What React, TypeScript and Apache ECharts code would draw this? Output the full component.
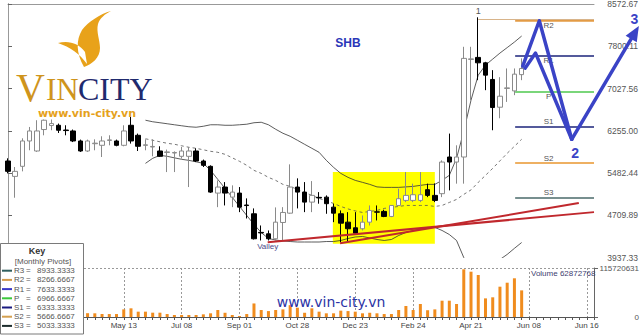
import React, { useEffect, useRef } from 'react';
import * as echarts from 'echarts';

// ---------- data ----------
const xTickLabels = ['May 13', 'Jul 08', 'Sep 01', 'Oct 28', 'Dec 23', 'Feb 24', 'Apr 21', 'Jun 08', 'Jun 16'];
const xTickStart = 16;
const xTickStep = 8;
const slotCount = 82;

// weekly candles: [open, close, low, high]
const candles: number[][] = [
  [5704, 5515, 5478, 5753], [5423, 5515, 5033, 5594], [5607, 6070, 5515, 6119], [6070, 6253, 5900, 6326],
  [5887, 6253, 5870, 6449], [6279, 6449, 6174, 6462], [6352, 6388, 6266, 6462], [6357, 6266, 6216, 6388],
  [6270, 6260, 6174, 6357], [6253, 6070, 6050, 6279], [6070, 5887, 5870, 6095], [5887, 6070, 5870, 6095],
  [6020, 6030, 5900, 6100], [5991, 6070, 5777, 6156], [6080, 6090, 5991, 6174], [6070, 5991, 5973, 6095],
  [5991, 6253, 5973, 6357], [6357, 6070, 6022, 6509], [6174, 5973, 5887, 6205], [5990, 6000, 5900, 6100],
  [5960, 5970, 5790, 6100], [5887, 5790, 5777, 5973], [5860, 5870, 5502, 5913], [5850, 5860, 5502, 5880],
  [5790, 5887, 5748, 5960], [5790, 5887, 5228, 5960], [5887, 5704, 5685, 5936], [5704, 5625, 5594, 5730],
  [5607, 5136, 5120, 5625], [5118, 5228, 4861, 5350], [5228, 5118, 4892, 5319], [5044, 5136, 4861, 5259],
  [5118, 4861, 4770, 5228], [4900, 4890, 4654, 5021], [4740, 4283, 4270, 4838], [4400, 4390, 4252, 4526],
  [4374, 4283, 4252, 4435], [4283, 4587, 4252, 4856], [4581, 4764, 4252, 4861], [4751, 5228, 4740, 5643],
  [5228, 5136, 4838, 5387], [5136, 4953, 4770, 5319], [4953, 5076, 4770, 5337], [5040, 5030, 4924, 5136],
  [5044, 4924, 4740, 5076], [4861, 4751, 4587, 4924], [4740, 4568, 4221, 4801], [4587, 4466, 4221, 4770],
  [4484, 4385, 4374, 4770], [4466, 4587, 4435, 4709], [4587, 4801, 4526, 4892], [4775, 4770, 4618, 4892],
  [4783, 4691, 4678, 4813], [4691, 4892, 4678, 4900], [4892, 5015, 4885, 5198], [4984, 5076, 4953, 5502],
  [4984, 5088, 4953, 5290], [4984, 5088, 4953, 5502], [5180, 5076, 5044, 5290], [5076, 4984, 4953, 5295],
  [5107, 5685, 5044, 5716], [5777, 5685, 5167, 6205], [5685, 5777, 5290, 5991], [5777, 7579, 5290, 7791],
  [7560, 7570, 6815, 7791], [7597, 7498, 7181, 8330], [7498, 7273, 6998, 7516], [7194, 6681, 6266, 7364],
  [6687, 6888, 6485, 7236], [7030, 7040, 6784, 7395], [6985, 7291, 6907, 7395], [7282, 7395, 7181, 7579],
];

// weekly volume, millions of shares
const volumeMillions = [
  10, 9, 14, 12, 11, 8, 9, 7, 8, 9, 11, 9,
  8.7, 7.1, 7.0, 7.0, 18, 20.5, 12.6, 12.6, 10.2, 10.2, 7, 4.7,
  4.7, 4.7, 4.7, 6.3, 8.7, 16.5, 10, 4.7, 2.4, 7, 32, 16.5,
  14, 16.5, 18, 28, 22, 10, 20.5, 12.6, 8.7, 8.7, 15, 14,
  12.6, 8.7, 10, 8.7, 7, 7, 16.5, 26, 16.5, 30.7, 16, 18,
  38.5, 38.5, 30.7, 112.6, 107, 99.2, 44, 46.5, 71.6, 81, 91.4, 62.872768,
];

// Bollinger bands (20 weeks), first value at week 19
const bandStart = 19;
const upperBand = [
  6449, 6421, 6403, 6385, 6366, 6348, 6330, 6321, 6339, 6366, 6366, 6357, 6357, 6366, 6376, 6403, 6412, 6366,
  6284, 6211, 6156, 6083, 6009, 5936, 5863, 5716, 5588, 5478, 5405, 5350, 5314, 5277, 5231, 5222, 5222, 5222,
  5231, 5240, 5259, 5277, 5277, 5350, 5442, 5753, 6247, 6815, 7273, 7456, 7566, 7676, 7776, 7877, 7987,
];
const middleBand = [
  6110, 6083, 6055, 6028, 6010, 5982, 5955, 5936, 5909, 5881, 5863, 5826, 5762, 5698, 5625, 5533, 5478, 5405,
  5350, 5277, 5240, 5185, 5130, 5076, 5021, 4975, 4929, 4874, 4828, 4792, 4764, 4782, 4801, 4838, 4856, 4874,
  4892, 4892, 4892, 4892, 4874, 4892, 4947, 5002, 5094, 5176, 5314, 5442, 5570, 5707, 5845, 5973, 6101,
];
const lowerBand = [
  5661, 5753, 5808, 5790, 5762, 5735, 5716, 5689, 5661, 5533, 5368, 5204, 5039, 4874, 4709, 4545, 4398, 4288,
  4261, 4242, 4233, 4224, 4224, 4224, 4224, 4233, 4233, 4252, 4288, 4316, 4325, 4298, 4270, 4252, 4270, 4343,
  4398, 4435, 4462, 4490, 4490, 4435, 4361, 4252, 3940, 3611, 3428, 3428, 3556, 3905, 3997, 4108, 4215,
];

const pivotNames = ['R3', 'R2', 'R1', 'P', 'S1', 'S2', 'S3'];
const pivotValues = [8933.3333, 8266.6667, 7633.3333, 6966.6667, 6333.3333, 5666.6667, 5033.3333];
const pivotFrom = 70.1;
const pivotTo = 81;

const priceTicks = [3937.33, 4709.89, 5482.44, 6255.0, 7027.56, 7800.11, 8572.67];
const volumeMax = 115720631;
const lastVolume = 62872768;

// annotations: [week index, price]
const trendA = [[35.9, 4220], [81, 4770]];
const trendB = [[45.9, 4202], [78.9, 4935]];
const boxArea = [[44.9, 5502], [59.0, 4191]];
const priorHigh = [[65, 8293], [81, 8293]];
const topMark = [65, 8330];
const valleyMark = [35.9, 4133];
const arrowA = [[71.15, 7438], [73.44, 8267], [77.92, 6101]];
const arrowB = [[71.47, 7401], [72.92, 7676], [77.92, 6101]];
const arrowC = [[77.92, 6101], [87.2, 8170]];
const waveLabels = [
  { text: '2', at: [78.4, 5845] },
  { text: '3', at: [86.6, 8290] },
];

// ---------- styles ----------
const FONT = 'Liberation Sans';
const pivotLineColors = ['#2f5f5f', '#e39b45', '#1b237a', '#4ec94e', '#1b237a', '#e8962e', '#4a6a6a'];
const pivotLineWidths = [1.5, 2.5, 1.5, 1.5, 1.5, 1.5, 1.5];
const pivotKeyColors = ['#2f5f5f', '#d39a4a', '#3a3ac8', '#3cc83c', '#1a1a80', '#d4a050', '#1c2c2c'];
const BLUE = '#3a43c6';

const flamePath =
  'M111,11 C100,14 88,22 82,30 C76,40 76,53 84,67 C92,64 100,58 100,48 C100,40 96,32 98,24 C100,18 105,14 111,11 Z ' +
  'M58,43 C68,40 79,43 85,52 L87,64 C80,54 70,47 58,43 Z';

function labelAt(i: number): string | null {
  if (i < xTickStart || (i - xTickStart) % xTickStep !== 0) return null;
  const k = (i - xTickStart) / xTickStep;
  return k < xTickLabels.length ? xTickLabels[k] : null;
}

function buildOption(): any {
  const slots = Array.from({ length: slotCount }, (_, i) => String(i));
  const band = (arr: number[]) => arr.map((v, k) => [k + bandStart, v]);
  const yMin = priceTicks[0];
  const yMax = priceTicks[priceTicks.length - 1];

  const pivotLines: any[] = [];
  pivotNames.forEach((n, k) => {
    const v = pivotValues[k];
    if (v > yMax || v < yMin) return;
    pivotLines.push([
      {
        coord: [pivotFrom, v],
        lineStyle: { color: pivotLineColors[k], width: pivotLineWidths[k], type: 'solid' },
        label: {
          show: true,
          formatter: n,
          position: v >= pivotValues[3] ? 'insideMiddleBottom' : 'insideMiddleTop',
          distance: 1,
          color: '#555',
          fontSize: 8,
          fontFamily: FONT,
          padding: [0, 12, 0, 0],
        },
      },
      { coord: [pivotTo, v] },
    ]);
  });
  pivotLines.push([
    { coord: priorHigh[0], lineStyle: { color: '#d8b48a', width: 1, type: 'solid' }, label: { show: false } },
    { coord: priorHigh[1] },
  ]);

  const arrowRender = (params: any, api: any) => {
    if (params.dataIndex !== 0) return null;
    const px = (pts: number[][]) => pts.map((p) => api.coord(p));
    const a = px(arrowA);
    const b = px(arrowB);
    const c = px(arrowC);
    const end = c[c.length - 1];
    const prev = c[c.length - 2];
    const dx = end[0] - prev[0];
    const dy = end[1] - prev[1];
    const len = Math.sqrt(dx * dx + dy * dy);
    const ux = dx / len;
    const uy = dy / len;
    const headL = 15;
    const headW = 6.5;
    const base = [end[0] - ux * headL, end[1] - uy * headL];
    const cLine = c.slice(0, c.length - 1).concat([[end[0] - ux * (headL - 2), end[1] - uy * (headL - 2)]]);
    const lineStyle = { stroke: BLUE, lineWidth: 3.5, fill: null, lineJoin: 'round', lineCap: 'round' };
    const children: any[] = [
      { type: 'polyline', shape: { points: a }, style: lineStyle },
      { type: 'polyline', shape: { points: b }, style: lineStyle },
      { type: 'polyline', shape: { points: cLine }, style: lineStyle },
      {
        type: 'polygon',
        shape: {
          points: [
            end,
            [base[0] - uy * headW, base[1] + ux * headW],
            [base[0] + uy * headW, base[1] - ux * headW],
          ],
        },
        style: { fill: BLUE },
      },
    ];
    waveLabels.forEach((w) => {
      const p = api.coord(w.at);
      children.push({
        type: 'text',
        x: p[0],
        y: p[1],
        style: { text: w.text, font: 'bold 14px Liberation Sans', fill: BLUE, align: 'center', verticalAlign: 'middle' },
      });
    });
    return { type: 'group', children };
  };

  const graphic: any[] = [];
  // logo
  graphic.push({ type: 'vcFlame', x: 0, y: 0, z: 50, style: { fill: '#e8a21a' } });
  graphic.push({
    type: 'text', x: 16, y: 87, z: 50,
    style: { text: 'V', font: '40px Liberation Serif', fill: '#cf941c', align: 'left', verticalAlign: 'middle' },
  });
  graphic.push({
    type: 'text', x: 46, y: 89, z: 50,
    style: { text: 'IN', font: '31px Liberation Serif', fill: '#cf941c', align: 'left', verticalAlign: 'middle' },
  });
  graphic.push({
    type: 'text', x: 78, y: 89, z: 50,
    style: { text: 'CITY', font: '32px Liberation Serif', fill: '#1f2a6e', align: 'left', verticalAlign: 'middle' },
  });
  graphic.push({
    type: 'text', x: 87, y: 113, z: 50,
    style: { text: 'www.vin-city.vn', font: 'bold 11px DejaVu Sans', fill: '#e5a11c', align: 'center', verticalAlign: 'middle' },
  });
  graphic.push({
    type: 'text', x: 348, y: 43, z: 50,
    style: { text: 'SHB', font: 'bold 12px Liberation Sans', fill: '#2a36b8', align: 'center', verticalAlign: 'middle' },
  });
  graphic.push({
    type: 'text', x: 331, y: 302, z: 50,
    style: { text: 'www.vin-city.vn', font: '14px DejaVu Sans', fill: '#2b33a5', align: 'center', verticalAlign: 'middle' },
  });
  graphic.push({
    type: 'text', x: 531, y: 273, z: 50,
    style: { text: 'Volume ' + lastVolume, font: '8px ' + FONT, fill: '#404070', align: 'left', verticalAlign: 'middle' },
  });
  // key box
  graphic.push({
    type: 'rect', z: 100,
    shape: { x: 0.5, y: 243.5, width: 83, height: 90.5 },
    style: { fill: '#fff', stroke: '#7a7a7a', lineWidth: 1 },
  });
  graphic.push({
    type: 'text', x: 37, y: 251, z: 101,
    style: { text: 'Key', font: 'bold 9px ' + FONT, fill: '#333', align: 'center', verticalAlign: 'middle' },
  });
  graphic.push({
    type: 'text', x: 43, y: 261.5, z: 101,
    style: { text: '[Monthly Pivots]', font: '8px ' + FONT, fill: '#555', align: 'center', verticalAlign: 'middle' },
  });
  pivotNames.forEach((n, k) => {
    const y = 270.7 + 9.2 * k;
    graphic.push({
      type: 'line', z: 101,
      shape: { x1: 2, y1: y, x2: 12, y2: y },
      style: { stroke: pivotKeyColors[k], lineWidth: 2 },
    });
    graphic.push({
      type: 'text', x: 14, y, z: 101,
      style: { text: n, font: '8px ' + FONT, fill: '#555', align: 'left', verticalAlign: 'middle' },
    });
    graphic.push({
      type: 'text', x: 26, y, z: 101,
      style: { text: '=', font: '8px ' + FONT, fill: '#555', align: 'left', verticalAlign: 'middle' },
    });
    graphic.push({
      type: 'text', x: 37, y, z: 101,
      style: { text: pivotValues[k].toFixed(4), font: '8px ' + FONT, fill: '#555', align: 'left', verticalAlign: 'middle' },
    });
  });

  return {
    animation: false,
    backgroundColor: '#fff',
    textStyle: { fontFamily: FONT },
    grid: [
      { left: 8, right: 46, top: 4, height: 253.7, containLabel: false, outerBoundsMode: 'none' },
      { left: 8, right: 46, top: 268, height: 49, containLabel: false, outerBoundsMode: 'none' },
    ],
    xAxis: [
      { type: 'category', gridIndex: 0, data: slots, boundaryGap: false, show: false },
      {
        type: 'value', gridIndex: 0, min: 0, max: slotCount - 1, position: 'top',
        axisLine: { show: true, onZero: false, lineStyle: { color: '#999', width: 1 } },
        axisTick: { show: false }, axisLabel: { show: false }, splitLine: { show: false },
      },
      {
        type: 'category', gridIndex: 1, data: slots, boundaryGap: false,
        axisLine: { show: true, lineStyle: { color: '#555', width: 1 } },
        axisTick: { show: true, interval: 0, length: 3, lineStyle: { color: '#555' } },
        axisLabel: {
          show: true,
          interval: (i: number) => labelAt(i) !== null,
          formatter: (_v: string, i: number) => labelAt(i) ?? '',
          fontSize: 8, color: '#444', margin: 4, fontFamily: FONT,
        },
        splitLine: {
          show: true,
          interval: (i: number) => labelAt(i) !== null,
          lineStyle: { type: [2, 2], color: '#999', width: 1 },
        },
      },
    ],
    yAxis: [
      {
        type: 'value', gridIndex: 0, position: 'right', min: yMin, max: yMax, scale: true,
        axisLine: { show: true, lineStyle: { color: '#666', width: 1 } },
        axisTick: { show: true, length: 4, customValues: priceTicks, lineStyle: { color: '#666' } },
        axisLabel: {
          show: true, customValues: priceTicks, formatter: (v: number) => v.toFixed(2),
          fontSize: 8.5, color: '#555', align: 'right', margin: 44, fontFamily: FONT,
        },
        splitLine: { show: false },
      },
      {
        type: 'value', gridIndex: 0, position: 'left', min: yMin, max: yMax, scale: true,
        axisLine: { show: true, lineStyle: { color: '#999', width: 1 } },
        axisTick: { show: false }, axisLabel: { show: false }, splitLine: { show: false },
      },
      {
        type: 'value', gridIndex: 1, position: 'right', min: 0, max: volumeMax, interval: volumeMax,
        axisLine: { show: true, lineStyle: { color: '#666', width: 1 } },
        axisTick: { show: true, length: 4, lineStyle: { color: '#666' } },
        axisLabel: {
          show: true, formatter: (v: number) => String(Math.round(v)),
          fontSize: 8, color: '#555', align: 'right', margin: 45, fontFamily: FONT,
        },
        splitLine: { show: true, lineStyle: { type: [2, 2], color: '#999', width: 1 } },
      },
    ],
    series: [
      {
        type: 'line', xAxisIndex: 1, yAxisIndex: 0, data: [], z: 1, silent: true,
        markArea: {
          silent: true,
          itemStyle: { color: '#ffff00', opacity: 1 },
          data: [[{ coord: boxArea[0] }, { coord: boxArea[1] }]],
        },
      },
      {
        type: 'line', xAxisIndex: 1, yAxisIndex: 0, data: [], z: 3, silent: true,
        markLine: { silent: true, symbol: ['none', 'none'], data: pivotLines },
        markPoint: {
          silent: true,
          symbol: 'circle',
          symbolSize: 1,
          itemStyle: { color: 'rgba(0,0,0,0)' },
          data: [
            { coord: topMark, label: { show: true, formatter: '1', position: 'top', distance: 1, color: '#555', fontSize: 9 } },
            { coord: valleyMark, label: { show: true, formatter: 'Valley', position: 'inside', color: '#4b4b8a', fontSize: 8 } },
          ],
        },
      },
      {
        type: 'line', xAxisIndex: 1, yAxisIndex: 0, data: band(upperBand), z: 4, symbol: 'none', silent: true,
        lineStyle: { color: '#333', width: 0.8 },
      },
      {
        type: 'line', xAxisIndex: 1, yAxisIndex: 0, data: band(middleBand), z: 4, symbol: 'none', silent: true,
        lineStyle: { color: '#555', width: 0.8, type: [3, 3] },
      },
      {
        type: 'line', xAxisIndex: 1, yAxisIndex: 0, data: band(lowerBand), z: 4, symbol: 'none', silent: true,
        lineStyle: { color: '#333', width: 0.8 },
      },
      {
        type: 'candlestick', xAxisIndex: 0, yAxisIndex: 0, data: candles, barWidth: 5, z: 5, silent: true,
        itemStyle: { color: '#fff', color0: '#000', borderColor: '#8a8a8a', borderColor0: '#000', borderWidth: 1 },
      },
      {
        type: 'line', xAxisIndex: 1, yAxisIndex: 0, data: trendA, z: 6, symbol: 'none', silent: true,
        lineStyle: { color: '#c0282d', width: 2 },
      },
      {
        type: 'line', xAxisIndex: 1, yAxisIndex: 0, data: trendB, z: 6, symbol: 'none', silent: true,
        lineStyle: { color: '#c0282d', width: 2 },
      },
      {
        type: 'custom', xAxisIndex: 1, yAxisIndex: 0, z: 10, clip: false, silent: true,
        data: [arrowC[0]],
        encode: { x: 0, y: 1 },
        renderItem: arrowRender,
      },
      {
        type: 'bar', xAxisIndex: 2, yAxisIndex: 2, barWidth: 3, silent: true,
        data: volumeMillions.map((v) => Math.round(v * 1e6)),
        itemStyle: { color: '#f08c1e' },
      },
    ],
    graphic,
  };
}

export default function App() {
  const ref = useRef<HTMLDivElement>(null);
  useEffect(() => {
    document.body.style.margin = '0';
    echarts.graphic.registerShape('vcFlame', echarts.graphic.extendPath(flamePath, {}));
    const chart = echarts.init(ref.current as HTMLDivElement, undefined, { renderer: 'svg' });
    chart.setOption(buildOption());
    return () => chart.dispose();
  }, []);
  return <div ref={ref} style={{ width: 640, height: 335 }} />;
}
